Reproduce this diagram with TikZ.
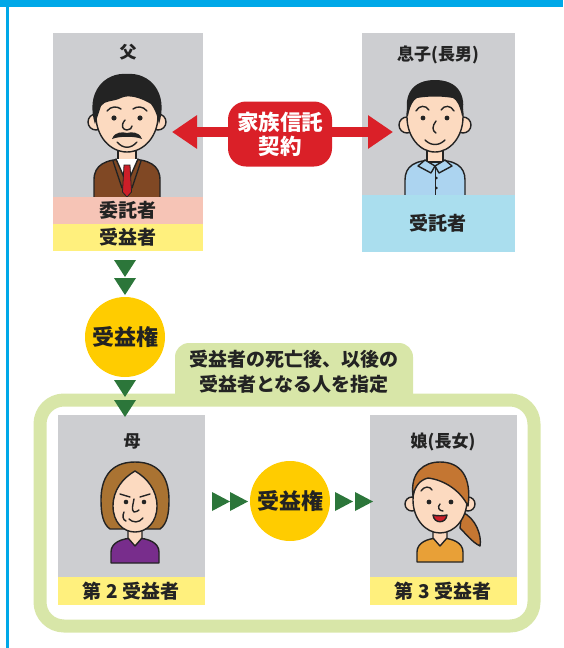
\documentclass[tikz,border=0pt]{standalone}
\usepackage{fontspec}
\setmainfont{Noto Sans CJK JP}
\usetikzlibrary{arrows.meta}

\definecolor{headblue}{RGB}{0,168,232}
\definecolor{boxgray}{RGB}{205,206,209}
\definecolor{pinkband}{RGB}{246,196,182}
\definecolor{yellowband}{RGB}{255,240,125}
\definecolor{blueband}{RGB}{170,222,238}
\definecolor{trustred}{RGB}{218,32,40}
\definecolor{arrowgreen}{RGB}{44,118,58}
\definecolor{gold}{RGB}{255,204,0}
\definecolor{palegreen}{RGB}{216,230,168}
\definecolor{skin}{RGB}{252,218,192}
\definecolor{suit}{RGB}{128,72,36}
\definecolor{tiered}{RGB}{205,30,40}
\definecolor{shirtblue}{RGB}{172,212,240}
\definecolor{momhair}{RGB}{170,115,50}
\definecolor{girlhair}{RGB}{196,118,50}
\definecolor{momshirt}{RGB}{120,45,140}
\definecolor{girlshirt}{RGB}{232,160,55}
\definecolor{ink}{RGB}{35,35,35}

\tikzset{
  who/.style={text=ink, font=\bfseries\fontsize{17}{19}\selectfont},
  role/.style={text=ink, font=\bfseries\fontsize{19}{22}\selectfont},
  benefit/.style={circle, fill=gold, minimum size=80pt, inner sep=0pt,
    text=ink, font=\bfseries\fontsize{22}{24}\selectfont},
  contract/.style={rounded corners=18pt, fill=trustred, minimum width=104pt,
    minimum height=65pt, align=center, text=white,
    font=\bfseries\fontsize{21.5}{24}\selectfont},
  note/.style={align=center, text=ink, font=\bfseries\fontsize{19}{25}\selectfont},
  outline/.style={draw=ink, line width=1.4pt, line join=round, line cap=round},
}

\begin{document}
\begin{tikzpicture}[x=1pt,y=-1pt]
\useasboundingbox (0,0) rectangle (563,648);

% header band and side rule
\fill[headblue] (0,0) rectangle (563,7);
\fill[headblue] (6,0) rectangle (8.5,648);

% green frame with its tab
\fill[palegreen, rounded corners=14pt] (175,343) rectangle (413,420);
\draw[palegreen, fill=white, line width=13pt, rounded corners=24pt] (40,400) rectangle (534,626);
\node[note] (after) at (294,372) {受益者の死亡後、以後の\\受益者となる人を指定};

% gray boxes
\fill[boxgray] (53,33) rectangle (203,197);
\fill[boxgray] (362,33) rectangle (515,195);
\fill[boxgray] (58,415) rectangle (205,577);
\fill[boxgray] (370,415) rectangle (517,577);

% father
\begin{scope}[shift={(127,120)}]
  \filldraw[fill=suit, outline] (-33,80) -- (-33,60) .. controls (-33,45) and (-22,39) .. (0,39) .. controls (22,39) and (33,45) .. (33,60) -- (33,80);
  \filldraw[fill=skin, outline] (-9,25) -- (-9,40) -- (9,40) -- (9,25);
  \filldraw[fill=white, outline] (-11,39) -- (0,64) -- (11,39);
  \filldraw[fill=tiered, draw=ink, line width=0.8pt] (-3,45) -- (3,45) -- (4.5,72) -- (0,77) -- (-4.5,72) -- cycle;
  \draw[outline] (-14,41) -- (-5,68) (14,41) -- (5,68);
  \filldraw[fill=skin, outline] (-31,2) circle[radius=8] (31,2) circle[radius=8];
  \filldraw[fill=skin, outline] (0,-4) ellipse[x radius=31, y radius=36];
  \fill[ink] (-32,4) .. controls (-42,-28) and (-22,-48) .. (0,-46) .. controls (22,-48) and (42,-28) .. (32,4)
    .. controls (30,-6) and (27,-12) .. (24,-16) .. controls (14,-22) and (2,-26) .. (-6,-22)
    .. controls (-14,-18) and (-22,-20) .. (-26,-14) .. controls (-28,-8) and (-30,-2) .. (-32,4) -- cycle;
  \draw[outline] (-20,-9) .. controls (-16,-14) and (-10,-14) .. (-6,-11) (6,-11) .. controls (10,-14) and (16,-14) .. (20,-9);
  \fill[ink] (-13,-2) circle[radius=2.6] (13,-2) circle[radius=2.6];
  \draw[outline] (-2,0) .. controls (-7,6) and (-4,10) .. (0,10) .. controls (3,10) and (5,8) .. (5,6);
  \fill[ink] (-15,19) .. controls (-12,11) and (-4,12) .. (0,13) .. controls (4,12) and (12,11) .. (15,19) .. controls (8,16) and (-8,16) .. (-15,19) -- cycle;
  \draw[outline] (-10,22) .. controls (-4,29) and (4,29) .. (10,22);
\end{scope}

% son
\begin{scope}[shift={(435,120)}]
  \filldraw[fill=shirtblue, outline] (-30,78) -- (-30,60) .. controls (-30,46) and (-20,40) .. (0,40) .. controls (20,40) and (30,46) .. (30,60) -- (30,78);
  \filldraw[fill=skin, outline] (-8,26) -- (-8,42) -- (8,42) -- (8,26);
  \draw[outline, line width=0.8pt] (0,46) -- (0,78);
  \filldraw[fill=shirtblue, outline] (-10,40) -- (0,46) -- (-4,53) -- (-17,46) -- cycle;
  \filldraw[fill=shirtblue, outline] (10,40) -- (0,46) -- (4,53) -- (17,46) -- cycle;
  \fill[ink] (1.5,58) circle[radius=1.4] (1.5,68) circle[radius=1.4];
  \filldraw[fill=skin, outline] (-28,5) circle[radius=8] (28,5) circle[radius=8];
  \filldraw[fill=skin, outline] (0,-3) ellipse[x radius=28, y radius=35];
  \fill[ink] (-27,-4) .. controls (-32,-26) and (-22,-40) .. (0,-40) .. controls (22,-40) and (32,-26) .. (27,-4)
    .. controls (25,-14) and (22,-20) .. (18,-22) .. controls (6,-24) and (-6,-24) .. (-18,-22)
    .. controls (-22,-20) and (-25,-14) .. (-27,-4) -- cycle;
  \draw[outline] (-19,-9) .. controls (-16,-15) and (-9,-15) .. (-6,-10) (6,-10) .. controls (9,-15) and (16,-15) .. (19,-9);
  \fill[ink] (-12,-2) circle[radius=2.4] (12,-2) circle[radius=2.4];
  \draw[outline] (1,1) .. controls (-3,6) and (-3,11) .. (1,13);
  \draw[outline] (-10,20) .. controls (-4,26) and (4,26) .. (10,20);
\end{scope}

% mother
\begin{scope}[shift={(135,500)}]
  \filldraw[fill=momshirt, outline] (-24,63) -- (-24,52) .. controls (-24,43) and (-14,38) .. (0,38) .. controls (14,38) and (24,43) .. (24,52) -- (24,63) -- cycle;
  \filldraw[fill=skin, outline] (-7,28) -- (-7,38) -- (0,46) -- (7,38) -- (7,28);
  \filldraw[fill=momhair, outline] (0,-38) .. controls (-26,-38) and (-34,-20) .. (-34,0) .. controls (-34,14) and (-32,24) .. (-25,29)
    -- (25,29) .. controls (32,24) and (34,14) .. (34,0) .. controls (34,-20) and (26,-38) .. (0,-38) -- cycle;
  \filldraw[fill=skin, outline] (0,-29) .. controls (-12,-22) and (-22,-10) .. (-22,6) .. controls (-22,22) and (-12,32) .. (0,32)
    .. controls (12,32) and (22,22) .. (22,6) .. controls (22,-10) and (12,-22) .. (0,-29) -- cycle;
  \draw[outline] (-15,-6) -- (-5,-3) (5,-3) -- (15,-6);
  \fill[ink] (-9,2) circle[radius=2.3] (9,2) circle[radius=2.3];
  \draw[outline] (-1,-1) .. controls (-2,5) and (-4,10) .. (-1,12) .. controls (1,12) and (3,11) .. (4,10);
  \draw[outline] (-11,12) .. controls (-13,16) and (-12,20) .. (-9,21);
  \draw[outline] (-6,19) .. controls (-2,23) and (4,23) .. (8,18);
\end{scope}

% daughter
\begin{scope}[shift={(440,500)}]
  \filldraw[fill=girlhair, outline] (22,12) .. controls (36,18) and (42,36) .. (40,46) .. controls (32,42) and (26,34) .. (20,28) -- cycle;
  \filldraw[fill=girlshirt, outline] (-23,62) -- (-23,52) .. controls (-23,43) and (-13,38) .. (0,38) .. controls (13,38) and (23,43) .. (23,52) -- (23,62) -- cycle;
  \filldraw[fill=skin, outline] (-7,28) -- (-7,38) -- (0,46) -- (7,38) -- (7,28);
  \filldraw[fill=skin, outline] (-28,4) circle[radius=7] (28,4) circle[radius=7];
  \filldraw[fill=skin, outline] (0,0) ellipse[x radius=27, y radius=33];
  \filldraw[fill=girlhair, outline] (-27,-4) .. controls (-30,-28) and (-16,-38) .. (0,-38) .. controls (20,-38) and (32,-24) .. (28,6)
    .. controls (20,-10) and (4,-20) .. (-12,-22) .. controls (-20,-20) and (-25,-14) .. (-27,-4) -- cycle;
  \draw[outline] (-19,-9) .. controls (-16,-14) and (-10,-14) .. (-8,-10);
  \fill[ink] (-11,2) circle[radius=2.4] (11,2) circle[radius=2.4];
  \draw[outline] (0,4) .. controls (-3,7) and (-1,11) .. (3,11);
  \filldraw[fill=tiered, outline] (-7,15) .. controls (-3,16) and (3,16) .. (7,15) .. controls (6,24) and (-6,24) .. (-7,15) -- cycle;
\end{scope}

% role bands
\fill[pinkband] (53,197) rectangle (203,224);
\fill[yellowband] (53,224) rectangle (203,251);
\fill[blueband] (362,195) rectangle (515,252);
\fill[yellowband] (58,577) rectangle (205,605);
\fill[yellowband] (370,577) rectangle (517,605);

\node[who] (dad) at (128,52) {父};
\node[who] (son) at (438,55) {息子(長男)};
\node[who] (mom) at (132,441) {母};
\node[who] (girl) at (443,442) {娘(長女)};
\node[role] (settlor) at (128,210) {委託者};
\node[role] (benef) at (128,237) {受益者};
\node[role] (trustee) at (438,223) {受託者};
\node[role] (second) at (131,591) {第 2 受益者};
\node[role] (third) at (443,591) {第 3 受益者};

% trust contract between father and son
\coordinate (dadside) at (172,132);
\coordinate (sonside) at (393,132);
\draw[trustred, line width=10pt, {Triangle[length=25pt,width=32pt]}-{Triangle[length=25pt,width=32pt]}] (dadside) -- (sonside);
\node[contract] (trust) at (280,134) {家族信託\\契約};

% beneficial right handed down
\node[benefit] (right1) at (125,337) {受益権};
\node[benefit] (right2) at (290,501) {受益権};
\foreach \y in {260,278,380,400}
  \fill[arrowgreen] (114,\y) -- (136,\y) -- (125,\y+17) -- cycle;
\foreach \x in {212,230,335,355}
  \fill[arrowgreen] (\x,492) -- (\x,511) -- (\x+18,501.5) -- cycle;

\end{tikzpicture}
\end{document}
